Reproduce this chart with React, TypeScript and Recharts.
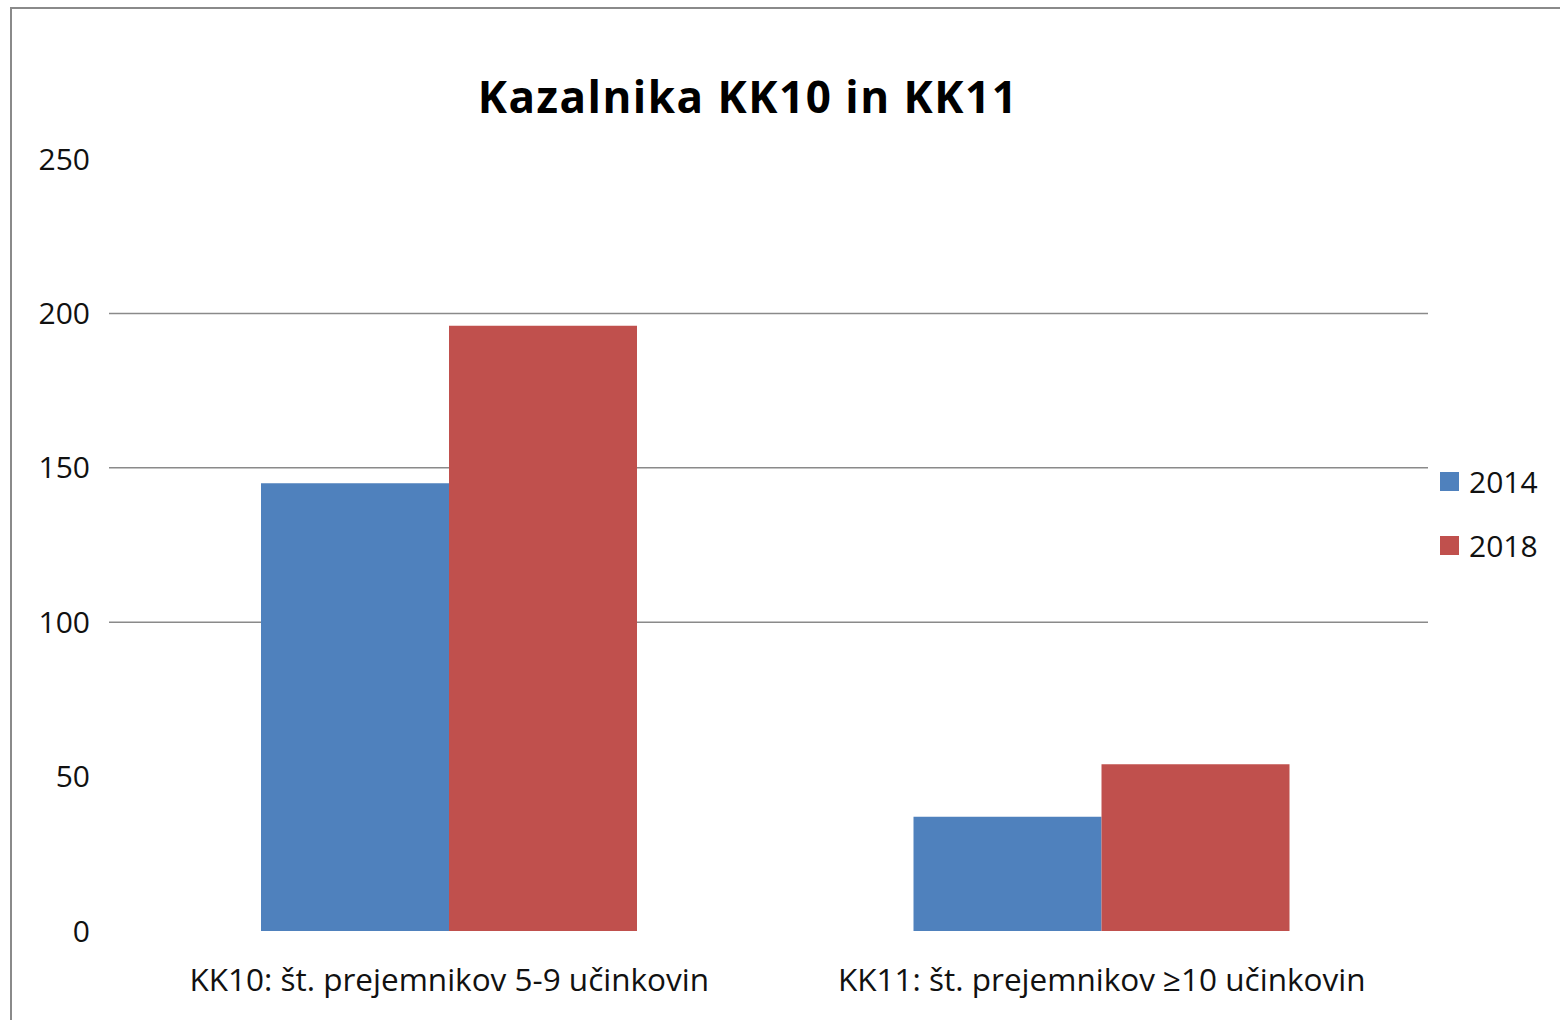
import React from "react";
import {
  BarChart,
  Bar,
  XAxis,
  YAxis,
  CartesianGrid,
  Legend,
} from "recharts";

const categories = [
  "KK10: št. prejemnikov 5-9 učinkovin",
  "KK11: št. prejemnikov ≥10 učinkovin",
];
const values2014 = [145, 37];
const values2018 = [196, 54];
const yTicks = [0, 50, 100, 150, 200, 250];
const gridValues = [100, 150, 200];

const data = categories.map((name, i) => ({
  name,
  y2014: values2014[i],
  y2018: values2018[i],
}));

const FONT = "'Open Sans', 'Noto Sans', sans-serif";

function LegendBox({ payload }: any) {
  return (
    <div style={{ fontFamily: FONT, fontSize: 30, color: "#111" }}>
      {(payload || []).map((p: any) => (
        <div
          key={p.value}
          style={{ display: "flex", alignItems: "center", height: 64 }}
        >
          <span
            style={{
              width: 19,
              height: 19,
              background: p.color,
              display: "inline-block",
              marginRight: 10,
            }}
          />
          {p.value}
        </div>
      ))}
    </div>
  );
}

export default function App() {
  return (
    <div
      style={{
        position: "absolute",
        left: 0,
        top: 0,
        width: 1560,
        height: 1020,
        background: "#fff",
        overflow: "hidden",
      }}
    >
      <div
        style={{
          position: "absolute",
          left: 10,
          top: 7,
          width: 1600,
          height: 1100,
          borderTop: "2px solid #8a8a8a",
          borderLeft: "2px solid #8a8a8a",
        }}
      />
      <div
        style={{
          position: "absolute",
          left: 0,
          width: 1496,
          top: 66,
          textAlign: "center",
          fontFamily: FONT,
          fontWeight: 700,
          fontSize: 44,
          letterSpacing: 1.5,
          color: "#000",
        }}
      >
        Kazalnika KK10 in KK11
      </div>
      <div style={{ position: "absolute", left: 0, top: 0 }}>
        <BarChart
          width={1560}
          height={1020}
          data={data}
          margin={{ top: 159, right: 12, bottom: 28, left: 0 }}
          barCategoryGap={138}
          barGap={0}
        >
          <CartesianGrid
            vertical={false}
            horizontalValues={gridValues}
            stroke="#8a8a8a"
            strokeWidth={1.5}
          />
          <XAxis
            dataKey="name"
            axisLine={false}
            tickLine={false}
            height={61}
            padding={{ left: 14, right: 0 }}
            tickMargin={32}
            tick={{ fontFamily: FONT, fontSize: 31.5, fill: "#111" }}
          />
          <YAxis
            domain={[0, 250]}
            ticks={yTicks}
            axisLine={false}
            tickLine={false}
            width={109}
            tickMargin={13}
            tick={{ fontFamily: FONT, fontSize: 30, fill: "#111" }}
          />
          <Legend
            layout="vertical"
            align="right"
            verticalAlign="top"
            content={<LegendBox />}
            wrapperStyle={{ position: "absolute", left: 1440, top: 449, width: 120 }}
          />
          <Bar dataKey="y2014" name="2014" fill="#4F81BD" isAnimationActive={false} />
          <Bar dataKey="y2018" name="2018" fill="#C0504D" isAnimationActive={false} />
        </BarChart>
      </div>
    </div>
  );
}
